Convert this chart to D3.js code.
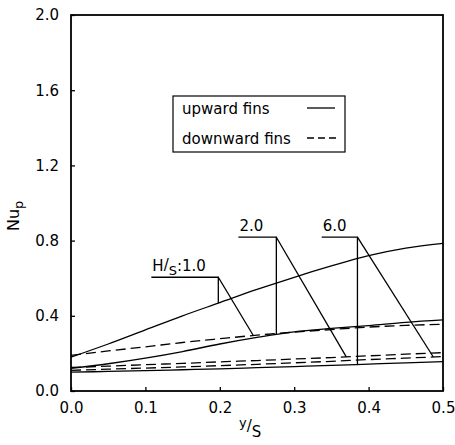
<!DOCTYPE html>
<html>
<head>
<meta charset="utf-8">
<script src="https://cdn.jsdelivr.net/npm/d3@7"></script>
<style>
  body { margin: 0; background: #fff; }
  text { font-family: "DejaVu Sans", sans-serif; fill: #000; }
</style>
</head>
<body>
<script>
// y/S positions where the curves were read
var xVals = [0, 0.05, 0.1, 0.15, 0.2, 0.25, 0.3, 0.35, 0.4, 0.45, 0.5];

// Nu_p, upward fins (solid) and downward fins (dashed), per H/S
var up10   = [0.18, 0.25, 0.325, 0.40, 0.47, 0.54, 0.605, 0.665, 0.72, 0.76, 0.785];
var down10 = [0.19, 0.213, 0.235, 0.258, 0.278, 0.297, 0.313, 0.327, 0.34, 0.349, 0.355];
var up20   = [0.12, 0.145, 0.175, 0.21, 0.25, 0.285, 0.315, 0.333, 0.348, 0.365, 0.378];
var down20 = [0.125, 0.132, 0.14, 0.147, 0.155, 0.162, 0.17, 0.178, 0.187, 0.196, 0.204];
var up60   = [0.10, 0.104, 0.108, 0.113, 0.118, 0.124, 0.13, 0.136, 0.143, 0.15, 0.156];
var down60 = [0.11, 0.116, 0.122, 0.128, 0.135, 0.142, 0.15, 0.158, 0.167, 0.175, 0.183];

var xTicks = [0, 0.1, 0.2, 0.3, 0.4, 0.5];
var yTicks = [0, 0.4, 0.8, 1.2, 1.6, 2.0];
var legendLabels = ["upward fins", "downward fins"];

// leader labels: text, where the underline starts / bends (data units),
// which curve the vertical leg hits and where the slanted leg ends
var leaders = [
  { pre: "H", den: "S", rest: ":1.0", x0: 0.108, xc: 0.198, yc: 0.605, vert: up10, diag: down10, xd: 0.245 },
  { pre: "", den: "", rest: "2.0", x0: 0.225, xc: 0.276, yc: 0.818, vert: up20, diag: down20, xd: 0.37 },
  { pre: "", den: "", rest: "6.0", x0: 0.337, xc: 0.385, yc: 0.818, vert: up60, diag: down60, xd: 0.487 }
];

var w = 455, h = 445;
var plotL = 71, plotR = 443, plotT = 15, plotB = 391;

var svg = d3.select("body").append("svg")
    .attr("width", w)
    .attr("height", h);

var x = d3.scaleLinear().domain([0, 0.5]).range([plotL, plotR]);
var y = d3.scaleLinear().domain([0, 2]).range([plotB, plotT]);

// frame
svg.append("rect")
   .attr("x", plotL).attr("y", plotT)
   .attr("width", plotR - plotL).attr("height", plotB - plotT)
   .attr("fill", "none").attr("stroke", "#000").attr("stroke-width", 1.8);

var xAxis = svg.append("g")
   .attr("transform", "translate(0," + plotB + ")")
   .call(d3.axisBottom(x).tickValues(xTicks).tickSize(-4).tickPadding(11)
         .tickFormat(d3.format(".1f")));
var yAxis = svg.append("g")
   .attr("transform", "translate(" + plotL + ",0)")
   .call(d3.axisLeft(y).tickValues(yTicks).tickSize(-4).tickPadding(12)
         .tickFormat(d3.format(".1f")));
[xAxis, yAxis].forEach(function(a) {
    a.select(".domain").remove();
    a.selectAll("line").attr("stroke", "#000").attr("stroke-width", 1.3);
    a.selectAll("text").attr("font-size", "15px").attr("font-family", "DejaVu Sans, sans-serif");
});

// curves
var line = d3.line()
    .x(function(d, i) { return x(xVals[i]); })
    .y(function(d) { return y(d); })
    .curve(d3.curveMonotoneX);

var series = [
  { v: up10, dash: null }, { v: down10, dash: "10,5" },
  { v: up20, dash: null }, { v: down20, dash: "10,5" },
  { v: up60, dash: null }, { v: down60, dash: "10,5" }
];
svg.selectAll("path.curve")
   .data(series)
   .enter()
   .append("path")
   .attr("class", "curve")
   .attr("d", function(d) { return line(d.v); })
   .attr("fill", "none")
   .attr("stroke", "#000")
   .attr("stroke-width", 1.3)
   .attr("stroke-dasharray", function(d) { return d.dash; });

// value on a curve at a given y/S
function at(vals, xv) {
    return d3.scaleLinear().domain(xVals).range(vals)(xv);
}

leaders.forEach(function(L) {
    var g = svg.append("g");
    var pts = [[x(L.x0), y(L.yc)], [x(L.xc), y(L.yc)], [x(L.xc), y(at(L.vert, L.xc))]];
    g.append("polyline")
     .attr("points", pts.join(" "))
     .attr("fill", "none").attr("stroke", "#000").attr("stroke-width", 1.3);
    g.append("line")
     .attr("x1", x(L.xc)).attr("y1", y(L.yc))
     .attr("x2", x(L.xd)).attr("y2", y(at(L.diag, L.xd)))
     .attr("stroke", "#000").attr("stroke-width", 1.3);
    var t = g.append("text")
     .attr("x", x(L.x0) + 1)
     .attr("y", y(L.yc) - 6)
     .attr("font-size", "15px");
    if (L.pre) {
        t.append("tspan").text(L.pre);
        t.append("tspan").attr("dy", -1).text("/");
        t.append("tspan").attr("dy", 5).attr("font-size", "13px").text(L.den);
        t.append("tspan").attr("dy", -4).text(L.rest);
    } else {
        t.text(L.rest);
    }
});

// legend
var lg = svg.append("g");
lg.append("rect")
  .attr("x", 173).attr("y", 96).attr("width", 172).attr("height", 56)
  .attr("fill", "#fff").attr("stroke", "#000").attr("stroke-width", 1.2);
lg.selectAll("text")
  .data(legendLabels)
  .enter()
  .append("text")
  .attr("x", 182)
  .attr("y", function(d, i) { return 114 + i * 30; })
  .attr("font-size", "15px")
  .text(function(d) { return d; });
lg.selectAll("line")
  .data(legendLabels)
  .enter()
  .append("line")
  .attr("x1", 307)
  .attr("x2", function(d, i) { return i ? 338 : 335; })
  .attr("y1", function(d, i) { return 108 + i * 30; })
  .attr("y2", function(d, i) { return 108 + i * 30; })
  .attr("stroke", "#000").attr("stroke-width", 1.3)
  .attr("stroke-dasharray", function(d, i) { return i ? "7,4" : null; });

// axis titles
var yt = svg.append("text")
   .attr("transform", "translate(19,231) rotate(-90)")
   .attr("font-size", "16px");
yt.append("tspan").text("Nu");
yt.append("tspan").attr("dy", 4).attr("font-size", "13px").text("p");

var xt = svg.append("text")
   .attr("x", 239).attr("y", 437)
   .attr("font-size", "15px");
xt.append("tspan").attr("dy", -10).attr("font-size", "13px").text("y");
xt.append("tspan").attr("dy", 4).text("/");
xt.append("tspan").attr("dy", 6).text("S");
</script>
</body>
</html>
